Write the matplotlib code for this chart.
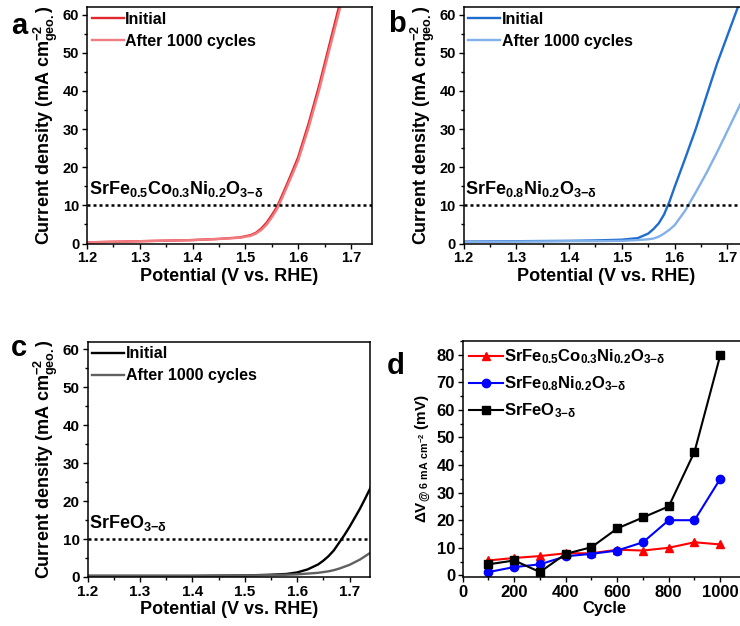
import matplotlib
matplotlib.use('Agg')
import matplotlib.pyplot as plt
from matplotlib.ticker import MultipleLocator

plt.rcParams['font.family'] = ['Liberation Sans', 'DejaVu Sans']
plt.rcParams['font.weight'] = 'bold'
plt.rcParams['axes.labelweight'] = 'bold'
plt.rcParams['mathtext.fontset'] = 'custom'
plt.rcParams['mathtext.rm'] = 'Liberation Sans:bold'
plt.rcParams['mathtext.it'] = 'Liberation Sans:bold'
plt.rcParams['mathtext.bf'] = 'Liberation Sans:bold'
plt.rcParams['axes.linewidth'] = 1.1
plt.rcParams['lines.solid_joinstyle'] = 'round'

# ---- data ----
# panel a: SrFe0.5Co0.3Ni0.2O3-d
pot_a = [1.20, 1.30, 1.40, 1.45, 1.49, 1.51, 1.52, 1.53, 1.54, 1.55, 1.56, 1.57, 1.58, 1.59,
         1.60, 1.62, 1.64, 1.66, 1.68, 1.70]
init_a = [0.3, 0.6, 0.9, 1.2, 1.6, 2.2, 2.8, 3.9, 5.4, 7.4, 9.6, 12.7, 15.9, 19.2,
          22.6, 31.5, 41.5, 52.5, 63.5, 74.0]
after_a = [0.3, 0.6, 0.9, 1.2, 1.5, 2.0, 2.6, 3.5, 4.9, 6.8, 9.0, 12.0, 15.2, 18.4,
           21.7, 30.4, 40.3, 51.2, 62.0, 72.5]

# panel b: SrFe0.8Ni0.2O3-d
pot_b = [1.20, 1.30, 1.40, 1.45, 1.50, 1.53, 1.55, 1.56, 1.57, 1.58, 1.59, 1.60, 1.62, 1.64,
         1.66, 1.68, 1.70, 1.72, 1.74]
init_b = [0.5, 0.6, 0.7, 0.8, 1.0, 1.4, 2.6, 3.8, 5.3, 7.6, 10.9, 14.8, 22.3, 30.0,
          38.5, 47.0, 54.5, 62.0, 70.0]
after_b = [0.4, 0.5, 0.6, 0.6, 0.7, 0.9, 1.1, 1.3, 1.8, 2.6, 3.6, 4.8, 8.6, 13.4,
           18.4, 23.8, 29.5, 35.2, 41.0]

# panel c: SrFeO3-d
pot_c = [1.20, 1.30, 1.40, 1.50, 1.55, 1.58, 1.60, 1.62, 1.64, 1.65, 1.66, 1.67, 1.68, 1.69,
         1.70, 1.71, 1.72, 1.73, 1.74]
init_c = [0.3, 0.3, 0.3, 0.4, 0.6, 0.8, 1.2, 2.0, 3.3, 4.3, 5.5, 7.0, 9.0, 11.0,
          13.2, 15.6, 18.0, 20.7, 23.5]
after_c = [0.3, 0.3, 0.3, 0.4, 0.5, 0.6, 0.7, 0.9, 1.1, 1.3, 1.5, 1.8, 2.2, 2.7,
           3.2, 3.9, 4.6, 5.5, 6.4]

# panel d: overpotential change vs cycle
cycles = [100, 200, 300, 400, 500, 600, 700, 800, 900, 1000]
dv_sfcn = [5.4, 6.3, 7, 8, 8, 9.3, 9, 10, 12, 11.2]
dv_sfn = [1.2, 3, 4, 6.9, 7.8, 9, 12, 20, 20, 35]
dv_sf = [4, 5.4, 1.2, 7.8, 10.2, 17, 21, 25, 44.8, 79.8]

names = ['SrFe$_{0.5}$Co$_{0.3}$Ni$_{0.2}$O$_{3{-}δ}$',
         'SrFe$_{0.8}$Ni$_{0.2}$O$_{3{-}δ}$',
         'SrFeO$_{3{-}δ}$']

fig = plt.figure(figsize=(7.4, 6.26), dpi=100)
W, H = 740.0, 626.0


def make_ax(left, top, right, bottom):
    return fig.add_axes([left / W, 1 - bottom / H, (right - left) / W, (bottom - top) / H])


def style_lsv(ax, label_name, tick_fs=10.5):
    ax.set_xlim(1.2, 1.74)
    ax.set_ylim(0, 62)
    ax.xaxis.set_major_locator(MultipleLocator(0.1))
    ax.xaxis.set_minor_locator(MultipleLocator(0.05))
    ax.yaxis.set_major_locator(MultipleLocator(10))
    ax.yaxis.set_minor_locator(MultipleLocator(5))
    ax.tick_params(which='both', direction='out', labelsize=tick_fs, width=1.0, pad=2)
    ax.tick_params(which='major', length=3.5)
    ax.tick_params(which='minor', length=2)
    ax.axhline(10, color='black', ls=(0, (1.2, 1.2)), lw=1.8)
    ax.set_xlabel('Potential (V vs. RHE)', fontsize=13, labelpad=2)
    ax.set_ylabel('Current density (mA cm$^{-2}_{geo.}$)', fontsize=13, labelpad=2)
    ax.text(1.203, 13, label_name, fontsize=13)
    ax.legend(loc='upper left', fontsize=11.5, frameon=False, handlelength=2.0,
              handletextpad=0.1, borderaxespad=0.1, borderpad=0.2, labelspacing=0.45)


# panel a
ax_a = make_ax(87, 7, 372, 243.5)
ax_a.plot(pot_a, init_a, color='#e0282e', lw=1.7, label='Initial')
ax_a.plot(pot_a, after_a, color='#f07c80', lw=1.7, label='After 1000 cycles')
style_lsv(ax_a, names[0])
fig.text(19 / W, 1 - 26 / H, 'a', fontsize=21, ha='center', va='center')

# panel b
ax_b = make_ax(463.5, 7, 748.5, 243.5)
ax_b.plot(pot_b, init_b, color='#1f6ccf', lw=1.7, label='Initial')
ax_b.plot(pot_b, after_b, color='#82b1ea', lw=1.7, label='After 1000 cycles')
style_lsv(ax_b, names[1])
fig.text(397 / W, 1 - 24 / H, 'b', fontsize=21, ha='center', va='center')

# panel c
ax_c = make_ax(87.5, 341.5, 370.5, 577)
ax_c.plot(pot_c, init_c, color='black', lw=1.7, label='Initial')
ax_c.plot(pot_c, after_c, color='#606060', lw=1.7, label='After 1000 cycles')
style_lsv(ax_c, names[2], tick_fs=11)
fig.text(19 / W, 1 - 348 / H, 'c', fontsize=21, ha='center', va='center')

# panel d
ax_d = make_ax(462.7, 341, 746, 577)
ax_d.plot(cycles, dv_sfcn, color='red', lw=1.5, marker='^', ms=6, label=names[0])
ax_d.plot(cycles, dv_sfn, color='blue', lw=1.5, marker='o', ms=6, label=names[1])
ax_d.plot(cycles, dv_sf, color='black', lw=1.5, marker='s', ms=5.5, label=names[2])
ax_d.set_xlim(0, 1100)
ax_d.set_ylim(-0.6, 85)
ax_d.xaxis.set_major_locator(MultipleLocator(200))
ax_d.xaxis.set_minor_locator(MultipleLocator(100))
ax_d.yaxis.set_major_locator(MultipleLocator(10))
ax_d.yaxis.set_minor_locator(MultipleLocator(5))
ax_d.tick_params(which='both', direction='out', labelsize=12, width=1.0, pad=2)
ax_d.tick_params(which='major', length=3.5)
ax_d.tick_params(which='minor', length=2)
ax_d.set_xlabel('Cycle', fontsize=12, labelpad=1)
ax_d.set_ylabel('ΔV$_{@\\ 6\\ mA\\ cm^{-2}}$ (mV)', fontsize=11, labelpad=3)
ax_d.legend(loc='upper left', fontsize=12, frameon=False, handlelength=2.0,
            handletextpad=0.1, borderaxespad=0.2, borderpad=0.2, labelspacing=0.5)
fig.text(396 / W, 1 - 366 / H, 'd', fontsize=21, ha='center', va='center')

fig.savefig('out.png', dpi=100)
